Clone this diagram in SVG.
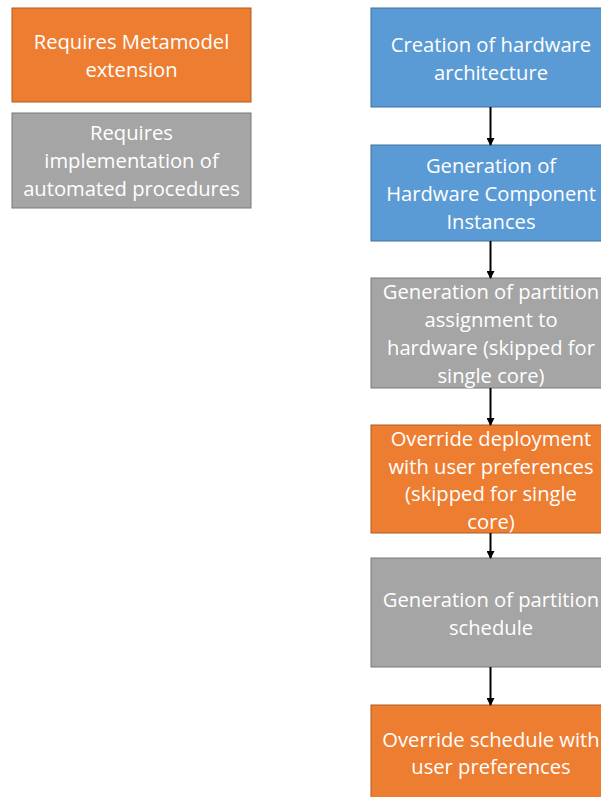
<svg xmlns="http://www.w3.org/2000/svg" width="601" height="797" viewBox="0 0 601 797">
<style>
.o{fill:#ED7D31;stroke:#AE5A21;stroke-width:1}
.b{fill:#5B9BD5;stroke:#41719C;stroke-width:1}
.g{fill:#A5A5A5;stroke:#787878;stroke-width:1}
text{font-family:"Open Sans","Noto Sans",sans-serif;font-size:20.2px;fill:#ffffff;text-anchor:middle}
.c line{stroke:#000;stroke-width:2}
</style>
<defs>
<marker id="ah" markerWidth="8" markerHeight="8" refX="7" refY="4" orient="auto" markerUnits="userSpaceOnUse">
<path d="M0,0 L8,4 L0,8 Z" fill="#000"/>
</marker>
</defs>
<rect width="601" height="797" fill="#fff"/>
<g id="legend-meta"><rect class="o" x="12" y="8" width="239" height="94"/>
<text x="131.5" y="49">Requires Metamodel</text><text x="131.5" y="77">extension</text></g>
<g id="legend-impl"><rect class="g" x="12" y="113" width="239" height="95"/>
<text x="131.5" y="140">Requires</text><text x="131.5" y="168">implementation of</text><text x="131.5" y="196">automated procedures</text></g>
<g id="n1"><rect class="b" x="371" y="8" width="240" height="99"/>
<text x="491" y="52">Creation of hardware</text><text x="491" y="80">architecture</text></g>
<g id="n2"><rect class="b" x="371" y="145" width="240" height="96"/>
<text x="491" y="173">Generation of</text><text x="491" y="201">Hardware Component</text><text x="491" y="229">Instances</text></g>
<g id="n3"><rect class="g" x="371" y="278" width="240" height="110"/>
<text x="491" y="299">Generation of partition</text><text x="491" y="327">assignment to</text><text x="491" y="355">hardware (skipped for</text><text x="491" y="383">single core)</text></g>
<g id="n4"><rect class="o" x="371" y="425" width="240" height="108"/>
<text x="491" y="446">Override deployment</text><text x="491" y="474">with user preferences</text><text x="491" y="501">(skipped for single</text><text x="491" y="529">core)</text></g>
<g id="n5"><rect class="g" x="371" y="558" width="240" height="109"/>
<text x="491" y="607">Generation of partition</text><text x="491" y="635">schedule</text></g>
<g id="n6"><rect class="o" x="371" y="705" width="240" height="100"/>
<text x="491" y="747">Override schedule with</text><text x="491" y="774">user preferences</text></g>
<g class="c" id="connectors">
<line x1="490.5" y1="107" x2="490.5" y2="145" marker-end="url(#ah)"/>
<line x1="490.5" y1="241" x2="490.5" y2="278" marker-end="url(#ah)"/>
<line x1="490.5" y1="388" x2="490.5" y2="425" marker-end="url(#ah)"/>
<line x1="490.5" y1="533" x2="490.5" y2="558" marker-end="url(#ah)"/>
<line x1="490.5" y1="667" x2="490.5" y2="705" marker-end="url(#ah)"/>
</g>
</svg>
